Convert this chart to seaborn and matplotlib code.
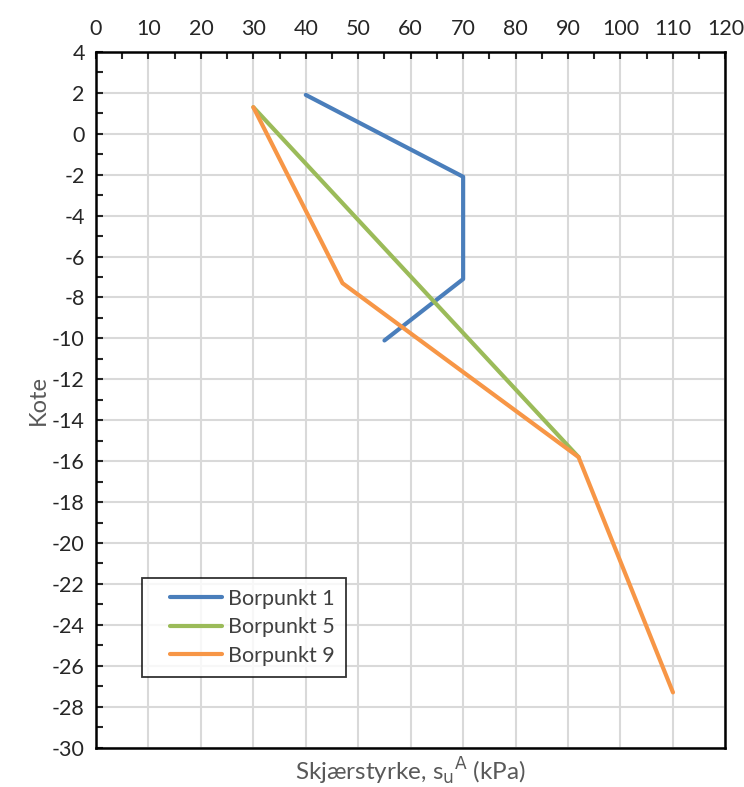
import matplotlib
matplotlib.use("Agg")
import matplotlib.pyplot as plt
import seaborn as sns
import pandas as pd
from matplotlib.ticker import MultipleLocator
from matplotlib.legend_handler import HandlerLine2D
from matplotlib.lines import Line2D

# Data
bp1_su = [40, 70, 70, 55]
bp1_kote = [1.9, -2.1, -7.1, -10.1]
bp5_su = [30, 92]
bp5_kote = [1.3, -15.8]
bp9_su = [30, 47, 92, 110]
bp9_kote = [1.3, -7.3, -15.8, -27.3]

series = {
    "Borpunkt 1": (bp1_su, bp1_kote),
    "Borpunkt 5": (bp5_su, bp5_kote),
    "Borpunkt 9": (bp9_su, bp9_kote),
}
colors = {"Borpunkt 1": "#4a7ebb", "Borpunkt 5": "#9bbb59", "Borpunkt 9": "#f79646"}

rows = []
for name, (xs, ys) in series.items():
    for i, (x, y) in enumerate(zip(xs, ys)):
        rows.append({"serie": name, "su": x, "kote": y, "order": i})
df = pd.DataFrame(rows)

sns.set_style("white")
plt.rcParams['font.family'] = ['Lato', 'DejaVu Sans']
plt.rcParams['axes.unicode_minus'] = False

fig, ax = plt.subplots(figsize=(7.44, 7.87), dpi=100)
fig.subplots_adjust(left=0.129, right=0.975, top=0.934, bottom=0.05)

sns.lineplot(data=df, x="su", y="kote", hue="serie", palette=colors, sort=False,
             estimator=None, units="serie", linewidth=3, ax=ax, legend=True)

ax.set_xlim(0, 120)
ax.set_ylim(-30, 4)
ax.xaxis.set_major_locator(MultipleLocator(10))
ax.xaxis.set_minor_locator(MultipleLocator(5))
ax.yaxis.set_major_locator(MultipleLocator(2))
ax.yaxis.set_minor_locator(MultipleLocator(1))
ax.xaxis.tick_top()
ax.tick_params(axis="x", which="both", direction="in", bottom=False, top=True,
               labelsize=15.5, pad=9, length=5, width=1.5)
ax.tick_params(axis="y", which="both", direction="in", left=True,
               labelsize=15.5, pad=8, length=5, width=1.5)

ax.grid(True, which="major", color="#d9d9d9", linewidth=1.5)
ax.set_axisbelow(True)
for s in ax.spines.values():
    s.set_color("black")
    s.set_linewidth(1.8)

ax.set_xlabel("Skjærstyrke, s$_{\\mathrm{u}}$$^{\\mathrm{A}}$ (kPa)", fontsize=17.5,
              color="#595959", labelpad=6)
ax.xaxis.set_label_position("bottom")
ax.set_ylabel("Kote", fontsize=17, color="#595959", labelpad=2)

leg = ax.legend(loc="lower left", bbox_to_anchor=(0.073, 0.102), borderaxespad=0,
                fontsize=15.5, frameon=True, fancybox=False, edgecolor="black",
                handlelength=3.2, borderpad=0.5, labelspacing=0.4, handletextpad=0.3,
                labelcolor="#404040",
                handler_map={Line2D: HandlerLine2D(xpad=0.8)})
leg.get_frame().set_linewidth(1.3)
for h in leg.legend_handles:
    h.set_linewidth(3)

fig.savefig("out.png", dpi=100)
